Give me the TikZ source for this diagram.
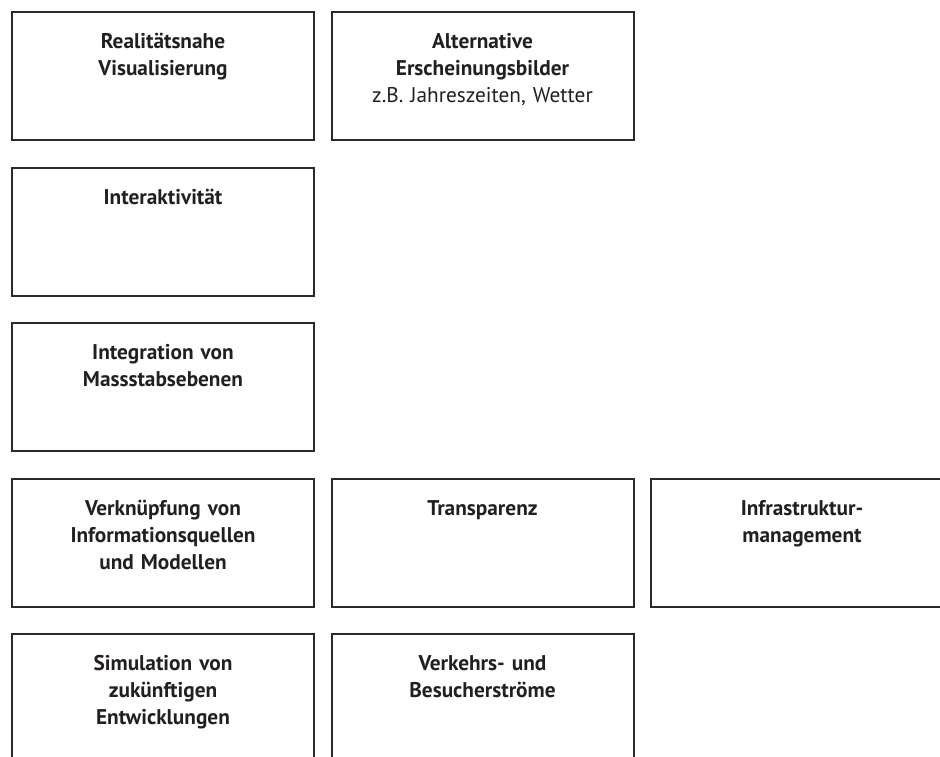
\documentclass[tikz,border=0pt]{standalone}
\usepackage{fontspec}
\setmainfont{PT Sans}
\definecolor{boxline}{HTML}{2A2A2A}
\definecolor{boxtext}{HTML}{231F20}
\begin{document}
\begin{tikzpicture}[x=1pt, y=1pt,
	cell/.style={rectangle, draw=boxline, line width=2pt, anchor=north west,
		minimum width=302pt, minimum height=128pt, inner ysep=0pt,
		text width=286pt, align=center, text height=37pt, text depth=91pt,
		text=boxtext, font=\fontsize{21.3}{26.7}\selectfont\bfseries}]
		
		% page frame
		\clip (0,0) rectangle (940,757);
		
		% first row
		\node (realVis) at (11,746) [cell]{Realitätsnahe\\Visualisierung};
		\node (altBild) at (330.5,746) [cell]{Alternative\\Erscheinungsbilder\\\mdseries z.B. Jahreszeiten, Wetter};
		
		% second and third row
		\node (interakt) at (11,590) [cell]{Interaktivität};
		\node (integMass) at (11,435) [cell]{Integration von\\Massstabsebenen};
		
		% fourth row
		\node (verknInfo) at (11,279) [cell]{Verknüpfung von\\Informationsquellen\\und Modellen};
		\node (transp) at (330.5,279) [cell]{Transparenz};
		\node (infraMgmt) at (650,279) [cell]{Infrastruktur-\\management};
		
		% last row (cut at the bottom)
		\node (simEntw) at (11,124) [cell]{Simulation von\\zukünftigen\\Entwicklungen};
		\node (verkBes) at (330.5,124) [cell]{Verkehrs- und\\Besucherströme};
		
\end{tikzpicture}
\end{document}
